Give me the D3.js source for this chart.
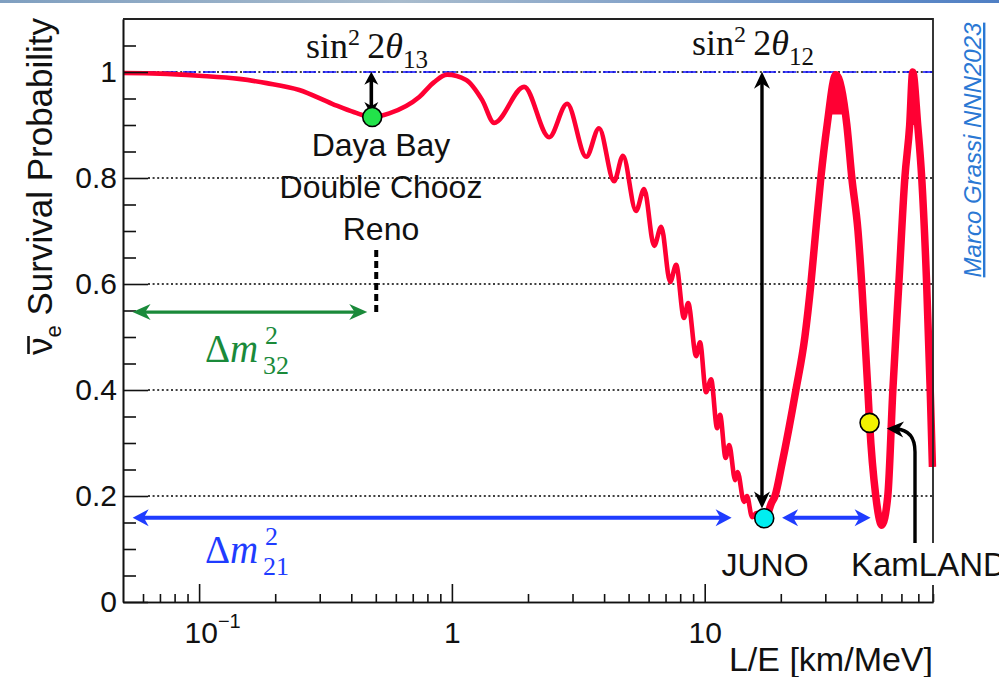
<!DOCTYPE html>
<html>
<head>
<meta charset="utf-8">
<script src="https://cdn.jsdelivr.net/npm/d3@7"></script>
<style>
  body { margin: 0; background: #fff; }
  text { font-family: "Liberation Sans", Arial, sans-serif; fill: #111; }
  .serif { font-family: "Liberation Serif", "Times New Roman", serif; }
</style>
</head>
<body>
<svg id="chart" width="999" height="677"></svg>
<script>
// survival probability (L/E in km/MeV)
const lOverE = [0.05, 0.07, 0.1, 0.144, 0.185, 0.249, 0.336, 0.411, 0.484, 0.565, 0.743, 0.851, 0.958,
  1.139, 1.318, 1.47, 1.93, 2.425, 2.856, 3.40, 3.82, 4.38, 4.75, 5.35, 5.76, 6.31, 6.73, 7.30, 7.71,
  8.28, 8.60, 9.25, 9.58, 10.12, 10.6, 11.2, 11.5, 12.1, 12.5, 13.2, 13.5, 14.3, 14.7, 15.4, 16.0,
  16.7, 17.5, 18.3, 18.97, 20.2, 22.95, 24.9, 26.3, 27.5, 28.8, 30.5, 33.0, 36.5, 38.2, 40.4, 41.8,
  43.0, 44.2, 44.9, 47.5, 50.2, 53.0, 55.5, 58.6, 61.9, 64.7, 66.5, 69.6, 72.2, 75.5, 78.0, 79.6];
const survival = [0.998, 0.997, 0.993, 0.987, 0.979, 0.966, 0.94, 0.924, 0.915, 0.922, 0.953, 0.981, 0.995,
  0.985, 0.947, 0.904, 0.972, 0.877, 0.94, 0.84, 0.894, 0.794, 0.842, 0.738, 0.779, 0.672, 0.708, 0.604, 0.636,
  0.536, 0.564, 0.464, 0.49, 0.396, 0.42, 0.328, 0.353, 0.272, 0.296, 0.23, 0.245, 0.189, 0.2, 0.16, 0.168,
  0.152, 0.158, 0.185, 0.2, 0.26, 0.4, 0.5, 0.6, 0.7, 0.8, 0.9, 0.995, 0.9, 0.8, 0.7, 0.6,
  0.5, 0.4, 0.338, 0.2, 0.145, 0.2, 0.4, 0.6, 0.8, 0.9, 1.0, 0.9, 0.8, 0.6, 0.4, 0.255];

// the two big maxima are smeared by the fast oscillation down to about these levels
const peakFrom = [28.8, 61.9];
const peakTo = [38.2, 72.2];
const peakSmear = [0.92, 0.9];

const yMajor = [0, 0.2, 0.4, 0.6, 0.8, 1];
const yMinor = [0.05, 0.1, 0.15, 0.25, 0.3, 0.35, 0.45, 0.5, 0.55, 0.65, 0.7, 0.75, 0.85, 0.9, 0.95, 1.05];
const gridValues = [0.2, 0.4, 0.6, 0.8];
const xMajor = [0.1, 1, 10];
const xMajorText = ["10", "1", "10"];
const xMajorExp = ["\u22121", "", ""];
const xMinor = [0.06, 0.07, 0.08, 0.09, 0.2, 0.3, 0.4, 0.5, 0.6, 0.7, 0.8, 0.9,
  2, 3, 4, 5, 6, 7, 8, 9, 20, 30, 40, 50, 60, 70, 80];

// experiments marked on the curve
const expNames = ["Daya Bay", "JUNO", "KamLAND"];
const expLE = [0.484, 17.2, 44.9];
const expP = [0.915, 0.158, 0.338];

const svg = d3.select("#chart");
const x = d3.scaleLog().domain([0.05, 80]).range([123, 933]);
const y = d3.scaleLinear().domain([0, 1.1]).range([602, 19]);

// slide banner strip at the top
const defs = svg.append("defs");
const grad = defs.append("linearGradient").attr("id", "strip");
grad.append("stop").attr("offset", "0%").attr("stop-color", "#7f9fc0");
grad.append("stop").attr("offset", "40%").attr("stop-color", "#a9bccd");
grad.append("stop").attr("offset", "100%").attr("stop-color", "#4f7fc4");
svg.append("rect").attr("x", 0).attr("y", 0).attr("width", 999).attr("height", 3).attr("fill", "url(#strip)");

// arrow heads
function marker(id, color, len, half) {
  defs.append("marker")
    .attr("id", id)
    .attr("viewBox", `${-len - 2} ${-half - 2} ${len + 4} ${2 * half + 4}`)
    .attr("refX", -len * 0.55).attr("refY", 0)
    .attr("markerWidth", len + 4).attr("markerHeight", 2 * half + 4)
    .attr("markerUnits", "userSpaceOnUse")
    .attr("orient", "auto-start-reverse")
    .append("path")
    .attr("d", `M0,0 L${-len},${-half} L${-len * 0.7},0 L${-len},${half} Z`)
    .attr("fill", color);
}
marker("headGreen", "#1a8a3a", 18, 8);
marker("headBlue", "#1f3cff", 16, 8.5);
marker("headBlack", "#000", 17, 8);
marker("headSmall", "#000", 13, 7);

// grid lines
const grid = svg.append("g");
gridValues.concat([1]).forEach(v => {
  grid.append("line")
    .attr("x1", 148).attr("x2", 933)
    .attr("y1", y(v)).attr("y2", y(v))
    .attr("stroke", "#000").attr("stroke-width", 1.3)
    .attr("stroke-dasharray", "2,2.6");
});
grid.append("line")
  .attr("x1", 123).attr("x2", 933)
  .attr("y1", y(1)).attr("y2", y(1))
  .attr("stroke", "#1010ff").attr("stroke-width", 1.6)
  .attr("stroke-dasharray", "13,7");

// curve
const red = "#ff0033";
const pts = lOverE.map((v, i) => [v, survival[i]]);
const line = d3.line().x(d => x(d[0])).y(d => y(d[1])).curve(d3.curveMonotoneX);
svg.append("path").datum(pts)
  .attr("d", line)
  .attr("fill", "none").attr("stroke", red)
  .attr("stroke-width", 4.6).attr("stroke-linejoin", "round");
svg.append("path").datum(pts.filter(d => d[0] >= 16.7))
  .attr("d", line)
  .attr("fill", "none").attr("stroke", red)
  .attr("stroke-width", 7.5).attr("stroke-linejoin", "round");

// smeared tops of the two big maxima
const area = d3.area().x(d => x(d[0])).y0(y(0)).y1(d => y(d[1])).curve(d3.curveMonotoneX);
peakFrom.forEach((f, i) => {
  defs.append("clipPath").attr("id", "peakClip" + i)
    .append("rect").attr("x", 0).attr("y", 0).attr("width", 999).attr("height", y(peakSmear[i]));
  svg.append("path")
    .datum(pts.filter(d => d[0] >= f && d[0] <= peakTo[i]))
    .attr("d", area)
    .attr("fill", red)
    .attr("clip-path", `url(#peakClip${i})`);
});

// axes
const yMinorAxis = d3.axisLeft(y).tickValues(yMinor).tickSizeInner(-13).tickSizeOuter(0).tickFormat("");
const yAxis = d3.axisLeft(y).tickValues(yMajor).tickSizeInner(-25).tickSizeOuter(0).tickPadding(6)
  .tickFormat(d => (d === 0 || d === 1) ? String(d) : d3.format(".1f")(d));
const xMinorAxis = d3.axisBottom(x).tickValues(xMinor).tickSizeInner(-8).tickSizeOuter(0).tickFormat("");
const xAxis = d3.axisBottom(x).tickValues(xMajor).tickSizeInner(-18).tickSizeOuter(0).tickFormat("");

function styleAxis(g) {
  g.selectAll("path,line").attr("stroke", "#111").attr("stroke-width", 1.6);
  g.selectAll("text").attr("font-size", 30).attr("fill", "#111")
    .attr("font-family", "'Liberation Sans', Arial, sans-serif");
}
svg.append("g").attr("transform", "translate(123,0)").call(yMinorAxis).call(styleAxis);
svg.append("g").attr("transform", "translate(123,0)").call(yAxis).call(styleAxis);
svg.append("g").attr("transform", "translate(0,602)").call(xMinorAxis).call(styleAxis);
const xg = svg.append("g").attr("transform", "translate(0,602)").call(xAxis).call(styleAxis);
xg.selectAll(".tick").append("text")
  .attr("y", 41).attr("text-anchor", "middle")
  .attr("font-size", 30).attr("fill", "#111")
  .each(function (d, i) {
    const t = d3.select(this);
    if (xMajorExp[i]) {
      t.attr("dx", 13);
      t.append("tspan").text(xMajorText[i]);
      t.append("tspan").attr("dy", -15).attr("font-size", 20).text(xMajorExp[i]);
    } else {
      t.text(xMajorText[i]);
    }
  });

// top and right frame
svg.append("path").attr("d", `M123,19 H933 V602`)
  .attr("fill", "none").attr("stroke", "#222").attr("stroke-width", 1.8);

// axis titles
svg.append("text")
  .attr("x", 933).attr("y", 671).attr("text-anchor", "end")
  .attr("font-size", 34).text("L/E [km/MeV]");

const yt = svg.append("text")
  .attr("transform", "translate(52,355) rotate(-90)")
  .attr("font-size", 35);
yt.append("tspan").text("\u03bd");
yt.append("tspan").attr("dy", 9).attr("font-size", 22).text("e");
yt.append("tspan").attr("dy", -9).text(" Survival Probability");
// anti-neutrino bar over the nu
svg.append("line")
  .attr("x1", 28.5).attr("x2", 28.5).attr("y1", 336).attr("y2", 354)
  .attr("stroke", "#111").attr("stroke-width", 2.6);

// credit
svg.append("text")
  .attr("transform", "translate(981,150) rotate(-90)")
  .attr("text-anchor", "middle")
  .attr("font-size", 24).attr("font-style", "italic")
  .attr("text-decoration", "underline")
  .style("fill", "#2a78d4")
  .text("Marco Grassi NNN2023");

// arrows
function arrow(d, color, width, headStart, headEnd) {
  const p = svg.append("path").attr("d", d)
    .attr("fill", "none").attr("stroke", color).attr("stroke-width", width);
  if (headStart) p.attr("marker-start", `url(#${headStart})`);
  if (headEnd) p.attr("marker-end", `url(#${headEnd})`);
  return p;
}
// delta m^2_32 range
arrow(`M${x(0.0545) + 10},${y(0.547)} H${x(0.463) - 10}`, "#1a8a3a", 3.2, "headGreen", "headGreen");
svg.append("line")
  .attr("x1", x(0.502)).attr("x2", x(0.502))
  .attr("y1", y(0.664)).attr("y2", y(0.545))
  .attr("stroke", "#000").attr("stroke-width", 4).attr("stroke-dasharray", "7,4");
// delta m^2_21 ranges
arrow(`M${x(0.0545) + 9},${y(0.159)} H${x(12.8) - 9}`, "#1f3cff", 4, "headBlue", "headBlue");
arrow(`M${x(20.2) + 9},${y(0.159)} H${x(45.4) - 9}`, "#1f3cff", 4, "headBlue", "headBlue");
// amplitude arrows
arrow(`M${x(0.48)},${y(1.0) + 7} V${y(0.919) - 7}`, "#000", 3.6, "headSmall", "headSmall");
arrow(`M${x(16.85)},${y(1.0) + 9} V${y(0.177) - 9}`, "#000", 3.4, "headBlack", "headBlack");
// KamLAND pointer
arrow(`M915,560 V452 Q915,430 896,429`, "#000", 3.4, null, "headBlack");

// experiment dots
const dotFill = ["#22e34a", "#00eef0", "#f2f200"];
svg.selectAll(".dot").data(expNames).enter().append("circle")
  .attr("cx", (d, i) => x(expLE[i]))
  .attr("cy", (d, i) => y(expP[i]))
  .attr("r", 9.5)
  .attr("fill", (d, i) => dotFill[i])
  .attr("stroke", "#000").attr("stroke-width", 1.6);

// labels
const reactorLabels = ["Daya Bay", "Double Chooz", "Reno"];
reactorLabels.forEach((t, i) => {
  svg.append("text").attr("x", 381).attr("y", 156 + i * 42)
    .attr("text-anchor", "middle").attr("font-size", 32).text(t);
});
svg.append("text").attr("x", 765).attr("y", 576)
  .attr("text-anchor", "middle").attr("font-size", 32).text(expNames[1]);
svg.append("rect").attr("x", 845).attr("y", 543).attr("width", 154).attr("height", 42).attr("fill", "#fff");
svg.append("text").attr("x", 851).attr("y", 576)
  .attr("font-size", 33).text(expNames[2]);

// formula labels
function sinLabel(x0, base, sub) {
  const t = svg.append("text").attr("class", "serif")
    .attr("x", x0).attr("y", base).attr("font-size", 36);
  t.append("tspan").text("sin");
  t.append("tspan").attr("dy", -13).attr("font-size", 24).text("2");
  t.append("tspan").attr("dy", 13).text("\u20092");
  t.append("tspan").attr("font-style", "italic").text("\u03b8");
  t.append("tspan").attr("dy", 10).attr("font-size", 25).text(sub);
}
sinLabel(306, 58, "13");
sinLabel(692, 55, "12");

function dmLabel(x0, base, sub, color) {
  const t = svg.append("text").attr("class", "serif")
    .attr("x", x0).attr("y", base).attr("font-size", 39).style("fill", color);
  t.append("tspan").text("\u0394");
  t.append("tspan").attr("font-style", "italic").text("m");
  t.append("tspan").attr("x", x0 + 60).attr("dy", -18).attr("font-size", 26).text("2");
  t.append("tspan").attr("x", x0 + 58).attr("dy", 30).attr("font-size", 26).text(sub);
}
dmLabel(205, 362, "32", "#1a8a3a");
dmLabel(205, 563, "21", "#1f3cff");
</script>
</body>
</html>
